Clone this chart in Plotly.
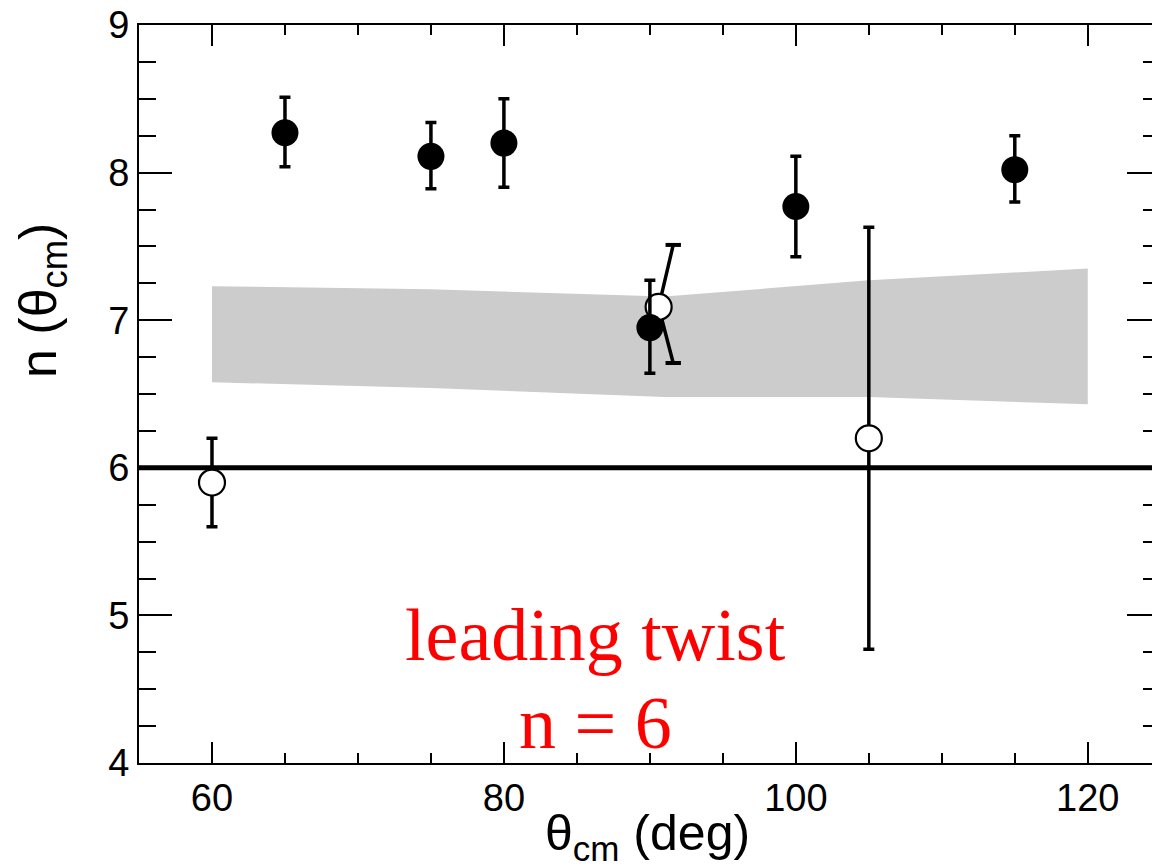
import plotly.graph_objects as go

# ---- data ----
band_x = [60, 75, 91, 105, 120]
band_upper = [7.23, 7.21, 7.16, 7.27, 7.35]
band_lower = [6.58, 6.54, 6.48, 6.48, 6.43]

filled_x = [65, 75, 80, 90, 100, 115]
filled_y = [8.27, 8.11, 8.20, 6.95, 7.77, 8.02]
filled_hi = [8.51, 8.34, 8.50, 7.27, 8.11, 8.25]
filled_lo = [8.04, 7.89, 7.90, 6.64, 7.43, 7.80]

open_x = [60, 105]
open_y = [5.90, 6.20]
open_hi = [6.20, 7.63]
open_lo = [5.60, 4.77]

# the point whose error bar is drawn slanted (caps offset from the marker)
slant_x = 90.6
slant_y = 7.09
slant_cap_x = 91.6
slant_hi = 7.51
slant_lo = 6.71

leading_twist_n = 6
x_range = [55, 124.4]
y_range = [4, 9]
x_ticks = [60, 80, 100, 120]
y_ticks = [4, 5, 6, 7, 8, 9]

FONT = "Liberation Sans, Arial, sans-serif"
SERIF = "Liberation Serif, Times New Roman, serif"

fig = go.Figure()

# gray band
fig.add_trace(go.Scatter(
    x=band_x + band_x[::-1],
    y=band_upper + band_lower[::-1],
    fill="toself", fillcolor="#cccccc",
    line=dict(width=0), mode="lines", hoverinfo="skip", showlegend=False))

# slanted error bar arms
fig.add_trace(go.Scatter(
    x=[slant_cap_x, slant_x, slant_cap_x],
    y=[slant_hi, slant_y, slant_lo],
    mode="lines", line=dict(color="black", width=3.5), showlegend=False))
fig.add_trace(go.Scatter(
    x=[slant_cap_x, slant_cap_x], y=[slant_hi, slant_lo],
    mode="markers", marker=dict(symbol="line-ew", size=11,
                                line=dict(color="black", width=4)),
    showlegend=False))

# open circles
fig.add_trace(go.Scatter(
    x=open_x + [slant_x], y=open_y + [slant_y], mode="markers",
    error_y=dict(type="data", symmetric=False,
                 array=[h - v for h, v in zip(open_hi, open_y)] + [0],
                 arrayminus=[v - l for l, v in zip(open_lo, open_y)] + [0],
                 color="black", thickness=3.5, width=5.5),
    marker=dict(symbol="circle", size=26, color="white",
                line=dict(color="black", width=2.2)),
    showlegend=False))

# filled circles
fig.add_trace(go.Scatter(
    x=filled_x, y=filled_y, mode="markers",
    error_y=dict(type="data", symmetric=False,
                 array=[h - v for h, v in zip(filled_hi, filled_y)],
                 arrayminus=[v - l for l, v in zip(filled_lo, filled_y)],
                 color="black", thickness=3.5, width=5.5),
    marker=dict(symbol="circle", size=27, color="black", line=dict(width=0)),
    showlegend=False))

# dummy trace for right-side ticks
fig.add_trace(go.Scatter(x=[None], y=[None], yaxis="y2", showlegend=False))

fig.add_shape(type="line", xref="paper", x0=0, x1=1, yref="y",
              y0=leading_twist_n, y1=leading_twist_n,
              line=dict(color="black", width=5), layer="below")

fig.update_layout(
    width=1152, height=867,
    margin=dict(l=139, r=0, t=25, b=104),
    paper_bgcolor="white", plot_bgcolor="white",
    font=dict(family=FONT, color="black"),
    xaxis=dict(range=x_range, tickvals=x_ticks, ticks="inside", ticklen=21,
               tickwidth=2, tickcolor="black", showline=True, linewidth=2,
               linecolor="black", mirror="ticks", showgrid=False,
               zeroline=False, tickfont=dict(size=38, family=FONT),
               ticklabelstandoff=0,
               minor=dict(dtick=5, tick0=0, ticks="inside", ticklen=10,
                          tickwidth=2, tickcolor="black")),
    yaxis=dict(range=y_range, tickvals=y_ticks, ticks="inside", ticklen=33,
               tickwidth=2, tickcolor="black", showline=True, linewidth=2,
               linecolor="black", mirror=False, showgrid=False,
               zeroline=False, tickfont=dict(size=38, family=FONT),
               minor=dict(dtick=0.25, tick0=0, ticks="inside", ticklen=17,
                          tickwidth=2, tickcolor="black")),
    yaxis2=dict(range=y_range, overlaying="y", side="right", anchor="x",
                tickvals=y_ticks, ticks="inside", ticklen=25, tickwidth=2,
                tickcolor="black", showticklabels=False, showline=False,
                showgrid=False, zeroline=False,
                minor=dict(dtick=0.25, tick0=0, ticks="inside", ticklen=9,
                           tickwidth=2, tickcolor="black")),
)

fig.add_annotation(text="θ<sub>cm</sub> (deg)", xref="paper", yref="paper",
                   x=0.5015, y=-0.100, xanchor="center", yanchor="middle",
                   showarrow=False, font=dict(size=50, family=FONT))
fig.add_annotation(text="n (θ<sub>cm</sub>)", xref="paper", yref="paper",
                   x=-0.095, y=0.627, xanchor="center", yanchor="middle",
                   textangle=-90, showarrow=False,
                   font=dict(size=52, family=FONT))
fig.add_annotation(text="leading twist", xref="x", yref="y", x=86.3, y=4.87,
                   xanchor="center", yanchor="middle", showarrow=False,
                   font=dict(size=74, family=SERIF, color="#ff0000"))
fig.add_annotation(text="n = 6", xref="x", yref="y", x=86.3, y=4.27,
                   xanchor="center", yanchor="middle", showarrow=False,
                   font=dict(size=74, family=SERIF, color="#ff0000"))

fig.write_html("out.html")
